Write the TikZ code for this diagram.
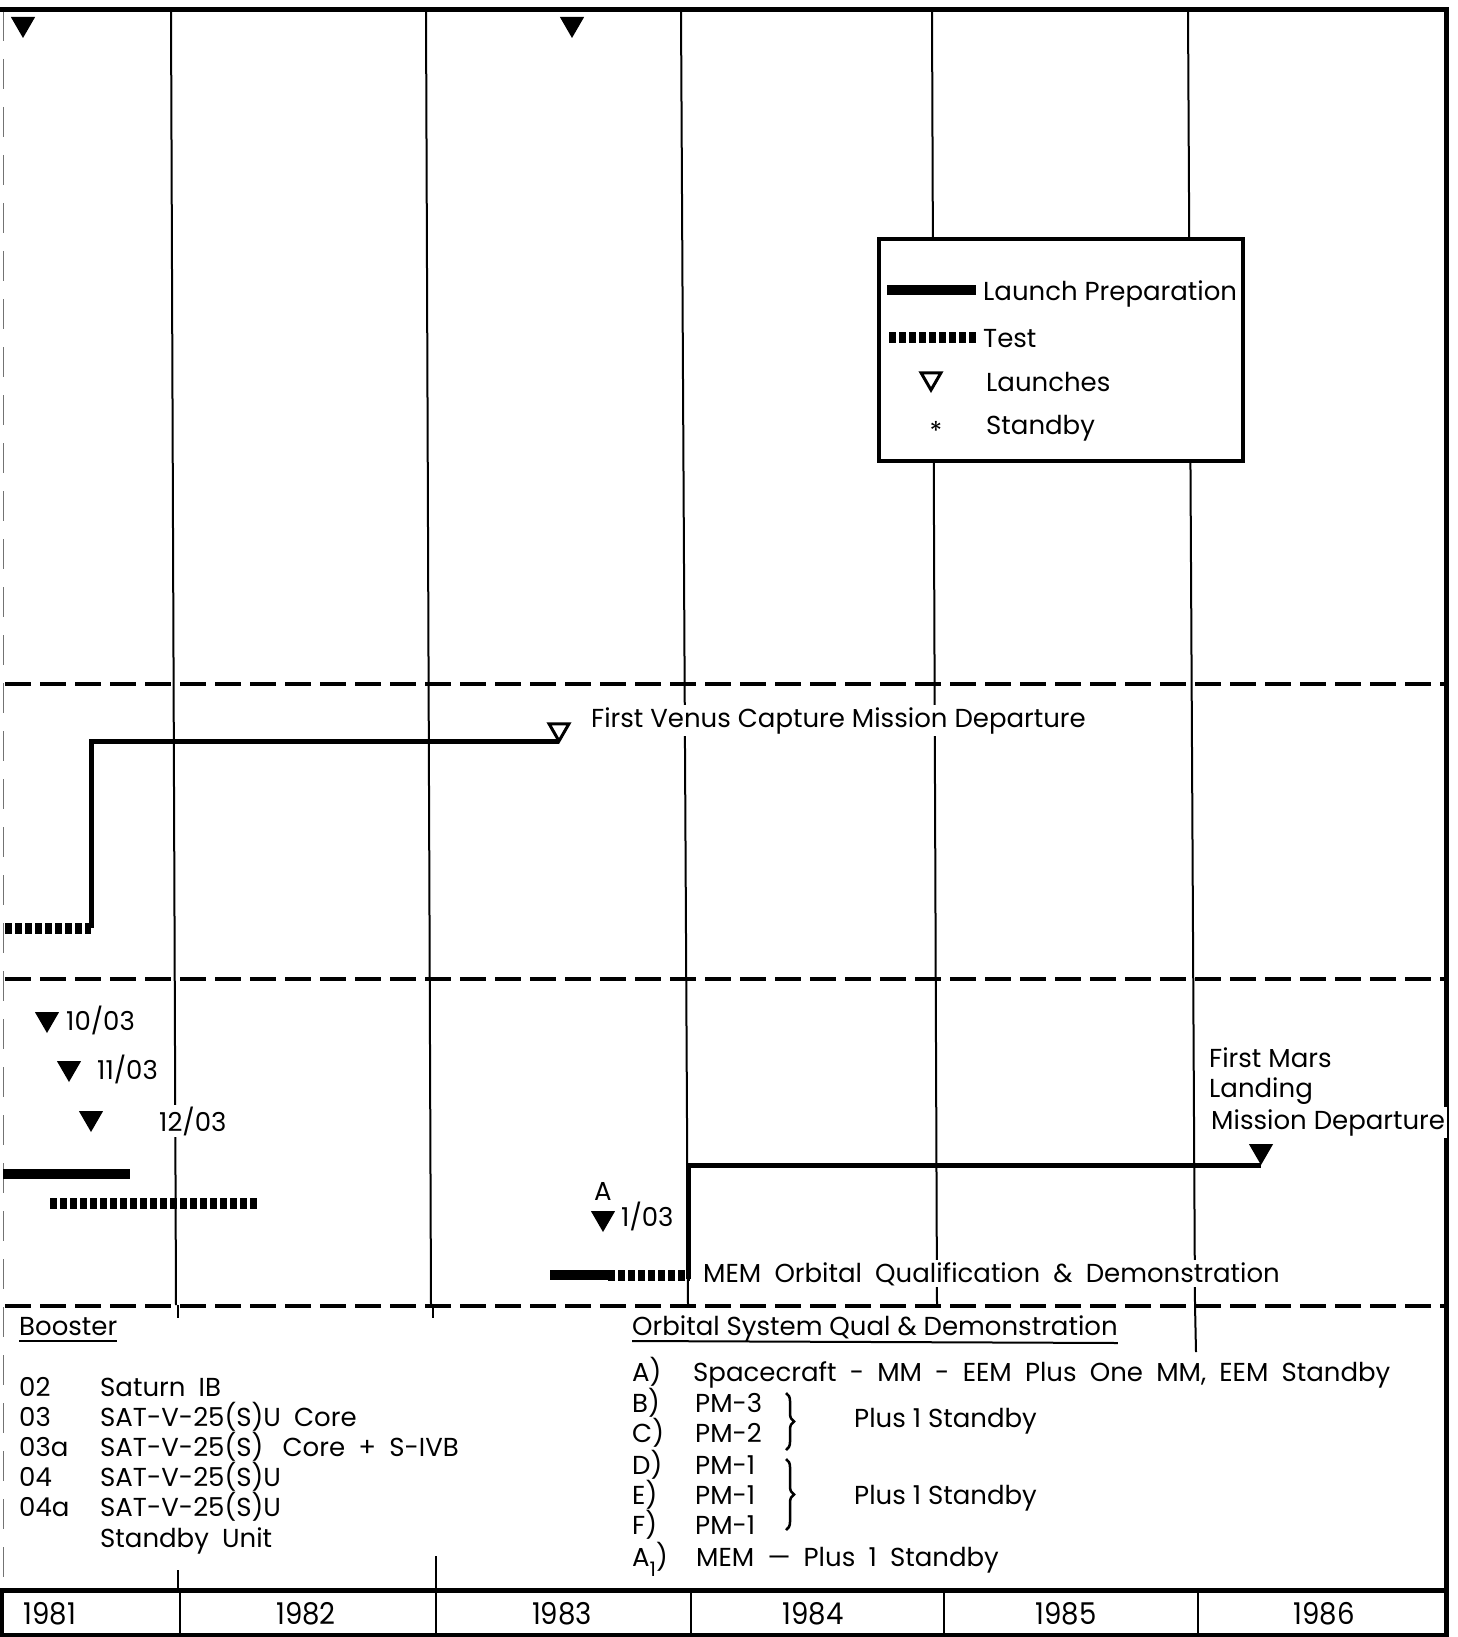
\documentclass[tikz,border=0pt]{standalone}
\usepackage{fontspec}
\setmainfont{Poppins}
\newfontfamily\widesp{Poppins}[WordSpace=1.9]
\usetikzlibrary{shapes.geometric,decorations.pathreplacing}
\begin{document}
\begin{tikzpicture}[x=1pt,y=-1pt,
  grid/.style={line width=2pt},
  sep/.style={line width=4.5pt, dash pattern=on 26pt off 9pt},
  prep/.style={line width=10pt},
  testbar/.style={line width=11pt, dash pattern=on 7pt off 3pt},
  conn/.style={line width=5pt},
  tri/.style={regular polygon, regular polygon sides=3, rotate=180, fill=black, inner sep=0pt, outer sep=0pt, minimum size=28pt, anchor=corner 1},
  otri/.style={regular polygon, regular polygon sides=3, rotate=180, draw=black, line width=3pt, fill=white, inner sep=0pt, outer sep=0pt, minimum size=23pt, anchor=corner 1},
  lbl/.style={font=\fontsize{26}{30}\selectfont, inner sep=2pt, fill=white, anchor=base west},
  wlbl/.style={font=\fontsize{26}{30}\selectfont\widesp, inner sep=2pt, anchor=base west},
  yr/.style={font=\fontsize{30}{34}\selectfont, inner sep=0pt, anchor=base},
]
\useasboundingbox (0,0) rectangle (1457,1637);

% grid lines
\draw[grid] (171,11) -- (176,1305);
\draw[grid] (426,11) -- (431,1305);
\draw[grid] (681,11) -- (688,1305);
\draw[grid] (932,11) -- (937,1305);
\draw[grid] (1188,11) -- (1195,1305) -- (1196,1352);
\draw[grid] (178,1305) -- (178,1318);
\draw[grid] (433,1305) -- (433,1318);
\draw[grid] (178,1570) -- (178,1589);
\draw[grid] (436,1556) -- (436,1589);

% frame
\draw[line width=1pt, black!55, dash pattern=on 30pt off 18pt] (3,11) -- (3,1590);
\draw[line width=5pt] (0,10) -- (1449,10);
\draw[line width=5pt] (1446,8) -- (1446,1637);
\draw[line width=5pt] (0,1590) -- (1449,1590);
\draw[line width=4pt] (0,1635) -- (1449,1635);
\draw[line width=4pt] (2,1590) -- (2,1637);
\foreach \x in {180,436,691,944,1198} \draw[grid] (\x,1590) -- (\x,1635);

% separators
\draw[sep] (5,684) -- (1446,684);
\draw[sep] (5,979) -- (1446,979);
\draw[sep] (5,1306) -- (1446,1306);

% top launches
\node[tri] (t1) at (23,38) {};
\node[tri] (t2) at (572,38) {};

% legend
\node[draw, line width=4pt, fill=white, minimum width=364pt, minimum height=222pt, inner sep=0pt] (legend) at (1061,350) {};
\coordinate (lp1) at (887,290); \coordinate (lp2) at (976,290);
\draw[prep] (lp1) -- (lp2);
\coordinate (lt1) at (889,337); \coordinate (lt2) at (977,337);
\draw[testbar] (lt1) -- (lt2);
\node[lbl, fill=none] (lLP) at (981,300) {Launch Preparation};
\node[lbl, fill=none] (lT) at (981,347) {Test};
\node[otri] (lL) at (931,390) {};
\node[lbl, fill=none] (lLt) at (984,391) {Launches};
\node[font=\fontsize{26}{30}\selectfont, inner sep=0pt, anchor=base] (lS) at (936,440) {*};
\node[lbl, fill=none] (lSt) at (984,434) {Standby};

% Venus section
\coordinate (vt1) at (5,928); \coordinate (vt2) at (91,928);
\draw[testbar] (vt1) -- (vt2);
\node[otri] (venus) at (559,741) {};
\draw[conn, line join=miter] (vt2) -- (91,741) -- (venus.corner 1);
\node[lbl] (venusT) at (589,727) {First Venus Capture Mission Departure};

% Mars section
\node[tri] (m1) at (47,1033) {};
\node[lbl] (m1t) at (64,1030) {10/03};
\node[tri] (m2) at (69,1082) {};
\node[lbl] (m2t) at (95,1079) {11/03};
\node[tri] (m3) at (91,1132) {};
\node[lbl] (m3t) at (157,1131) {12/03};
\coordinate (mp1) at (3,1174); \coordinate (mp2) at (130,1174);
\draw[prep] (mp1) -- (mp2);
\coordinate (mt1) at (50,1203); \coordinate (mt2) at (260,1203);
\draw[testbar] (mt1) -- (mt2);

\node[font=\fontsize{26}{30}\selectfont, inner sep=0pt, anchor=base] (aA) at (603,1200) {A};
\node[tri] (a1) at (603,1232) {};
\node[lbl] (a1t) at (619,1226) {1/03};

\coordinate (q1) at (550,1275); \coordinate (q2) at (608,1275); \coordinate (q3) at (690,1275);
\draw[prep] (q1) -- (q2);
\draw[testbar] (q2) -- (q3);
\node[tri] (mars) at (1261,1165) {};
\draw[conn, line join=miter] (688,1279) -- (688,1165) -- (mars.corner 1);
\node[wlbl, fill=white] (memT) at (701,1282) {MEM Orbital Qualification \& Demonstration};
\node[lbl] (mars1) at (1207,1067) {First Mars};
\node[lbl] (mars2) at (1207,1097) {Landing};
\node[lbl] (mars3) at (1209,1129) {Mission Departure};

% Booster list
\node[lbl, fill=none] (boost) at (17,1335) {Booster};
\draw[line width=2pt] ([yshift=-6pt]boost.base west) ++(2pt,0) -- ([yshift=-6pt,xshift=-2pt]boost.base east);
\foreach \c/\d/\y [count=\i] in {02/Saturn IB/1396, 03/SAT-V-25(S)U Core/1426, 03a/SAT-V-25(S)\hspace{6pt} Core + S-IVB/1456, 04/SAT-V-25(S)U/1486, 04a/SAT-V-25(S)U/1516}{
  \node[lbl, fill=none] (bc\i) at (17,\y) {\c};
  \node[wlbl] (bd\i) at (98,\y) {\d};
}
\node[wlbl] (bd6) at (98,1547) {Standby Unit};

% Orbital list
\node[lbl, fill=none] (orb) at (630,1335) {Orbital System Qual \& Demonstration};
\draw[line width=2pt] ([yshift=-6pt,xshift=2pt]orb.base west) -- ([yshift=-8pt,xshift=-2pt]orb.base east);
\node[lbl, fill=none] (oA) at (630,1381) {A)};
\node[wlbl] (oAt) at (691,1381) {Spacecraft - MM - EEM Plus One MM, EEM Standby};
\foreach \l/\p/\y in {B/PM-3/1412, C/PM-2/1442, D/PM-1/1474, E/PM-1/1504, F/PM-1/1534}{
  \node[lbl, fill=none] (o\l) at (630,\y) {\l)};
  \node[lbl, fill=none] (o\l t) at (693,\y) {\p};
}
\node[lbl, fill=none] (oA1) at (630,1566) {A\raisebox{-10pt}{\fontsize{20}{22}\selectfont 1})};
\node[wlbl] (oA1t) at (694,1566) {MEM — Plus 1 Standby};
\draw[line width=2.5pt, decorate, decoration={brace, amplitude=8pt}] (786,1393) -- (786,1450);
\draw[line width=2.5pt, decorate, decoration={brace, amplitude=8pt}] (786,1459) -- (786,1530);
\node[lbl, fill=none] (ps1) at (852,1427) {Plus 1 Standby};
\node[lbl, fill=none] (ps2) at (852,1504) {Plus 1 Standby};

% years
\foreach \t/\x in {1981/50,1982/306,1983/562,1984/813,1985/1066,1986/1324}
  \node[yr] (y\t) at (\x,1624) {\scalebox{0.92}[1]{\t}};
\end{tikzpicture}
\end{document}
